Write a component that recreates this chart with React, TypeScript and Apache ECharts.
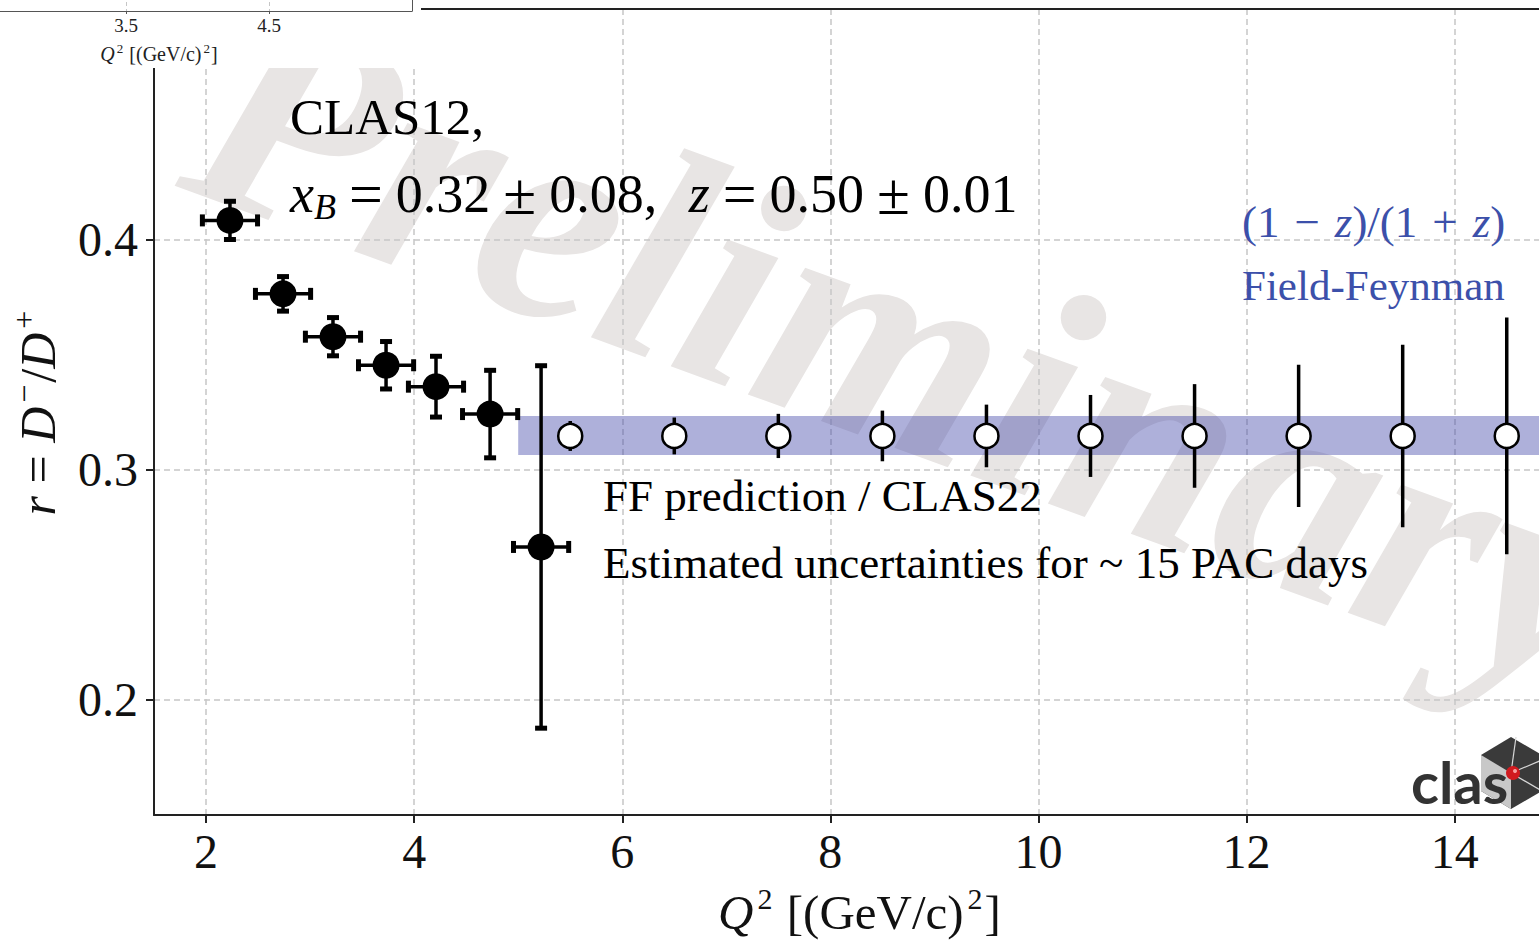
import React, { useEffect, useRef } from 'react';
import * as echarts from 'echarts';

// ---- axis ticks ----
const xTicks = [2, 4, 6, 8, 10, 12, 14];
const yTicks = [0.2, 0.3, 0.4];
const insetTicks = [3.5, 4.5];

// ---- measured points (filled) ----
const measQ2 = [2.23, 2.74, 3.22, 3.73, 4.21, 4.73, 5.22];
const measQ2Err = [0.265, 0.265, 0.265, 0.265, 0.265, 0.265, 0.265];
const measR = [0.4082, 0.3763, 0.3577, 0.3453, 0.336, 0.3241, 0.2664];
const measRErr = [0.0083, 0.0075, 0.0083, 0.0103, 0.0132, 0.019, 0.0787];

// ---- projected points (open) ----
const projQ2 = [5.5, 6.5, 7.5, 8.5, 9.5, 10.5, 11.5, 12.5, 13.5, 14.5];
const projR = [0.3146, 0.3146, 0.3146, 0.3146, 0.3146, 0.3146, 0.3146, 0.3146, 0.3146, 0.3146];
const projRErr = [0.0065, 0.008, 0.0096, 0.011, 0.0136, 0.0178, 0.0225, 0.0309, 0.0396, 0.0514];

// ---- Field-Feynman band ----
const bandQ2 = [5.0, 15.0];
const bandLow = [0.3063];
const bandHigh = [0.3233];

const SERIF = '"Liberation Serif", "Times New Roman", "DejaVu Serif", serif';

export default function App() {
  const ref = useRef<HTMLDivElement>(null);

  useEffect(() => {
    if (!ref.current) return;
    const chart = echarts.init(ref.current, null, { renderer: 'svg' });

    const gridLine = { show: true, lineStyle: { color: '#c6c6c6', width: 1.5, type: [6, 4] } };
    const axisLineStyle = { color: '#222', width: 2 };

    const measData = measQ2.map((q, i) => [q, measR[i], measQ2Err[i], measRErr[i]]);
    const projData = projQ2.map((q, i) => [q, projR[i], 0, projRErr[i]]);

    const errRender = (withCaps: boolean, lw: number) => (params: any, api: any) => {
      const x = api.value(0);
      const y = api.value(1);
      const ex = api.value(2);
      const ey = api.value(3);
      const top = api.coord([x, y + ey]);
      const bot = api.coord([x, y - ey]);
      const children: any[] = [
        { type: 'line', shape: { x1: top[0], y1: top[1], x2: bot[0], y2: bot[1] }, style: { stroke: '#000', lineWidth: lw } },
      ];
      if (withCaps) {
        const left = api.coord([x - ex, y]);
        const right = api.coord([x + ex, y]);
        const c = 6;
        const cs = { stroke: '#000', lineWidth: 5 };
        children.push(
          { type: 'line', shape: { x1: left[0], y1: left[1], x2: right[0], y2: right[1] }, style: { stroke: '#000', lineWidth: lw } },
          { type: 'line', shape: { x1: top[0] - c, y1: top[1], x2: top[0] + c, y2: top[1] }, style: cs },
          { type: 'line', shape: { x1: bot[0] - c, y1: bot[1], x2: bot[0] + c, y2: bot[1] }, style: cs },
          { type: 'line', shape: { x1: left[0], y1: left[1] - c, x2: left[0], y2: left[1] + c }, style: cs },
          { type: 'line', shape: { x1: right[0], y1: right[1] - c, x2: right[0], y2: right[1] + c }, style: cs }
        );
      }
      return { type: 'group', children };
    };

    const supRich = (size: number, sup: number) => ({
      it: { fontFamily: SERIF, fontSize: size, fontStyle: 'italic', lineHeight: size + 10, verticalAlign: 'middle', color: '#111' },
      n: { fontFamily: SERIF, fontSize: size, lineHeight: size + 10, verticalAlign: 'middle', color: '#111' },
      sup: { fontFamily: SERIF, fontSize: sup, lineHeight: sup, verticalAlign: 'top', color: '#111', padding: [0, 2, 0, 4] },
    });

    const option: any = {
      animation: false,
      backgroundColor: '#ffffff',
      grid: [
        { left: 154, top: 9, right: 0, bottom: 125, containLabel: false, outerBoundsMode: 'none' },
        { left: -17, top: -40, width: 429, height: 51, containLabel: false, outerBoundsMode: 'none' },
      ],
      xAxis: [
        {
          type: 'value', gridIndex: 0, min: 1.5, max: 14.81, splitNumber: 7, position: 'bottom', z: 1,
          axisLine: { show: true, onZero: false, lineStyle: axisLineStyle },
          axisTick: { show: true, inside: false, length: 8, customValues: xTicks, lineStyle: axisLineStyle },
          axisLabel: { customValues: xTicks, fontFamily: SERIF, fontSize: 48, color: '#111', margin: 12 },
          splitLine: gridLine,
          name: '{it|Q}{sup|2}{n| [(GeV/c)}{sup|2}{n|]}',
          nameLocation: 'middle',
          nameGap: 68,
          nameTextStyle: { fontFamily: SERIF, fontSize: 48, color: '#111', padding: [0, 0, 0, 26], rich: supRich(49, 30) },
        },
        {
          type: 'value', gridIndex: 0, min: 1.5, max: 14.81, position: 'top', z: 1,
          axisLine: { show: true, onZero: false, lineStyle: axisLineStyle },
          axisTick: { show: false }, axisLabel: { show: false }, splitLine: { show: false },
        },
        {
          type: 'value', gridIndex: 1, min: 2.5, max: 5.5, interval: 1, position: 'bottom', z: 7,
          axisLine: { show: true, onZero: false, lineStyle: { color: '#555', width: 1 } },
          axisTick: { show: true, length: 3, customValues: insetTicks, lineStyle: { color: '#555', width: 1 } },
          axisLabel: {
            customValues: insetTicks, fontFamily: SERIF, fontSize: 19, color: '#222', margin: 5,
            formatter: (v: number) => v.toFixed(1),
          },
          splitLine: { show: true, lineStyle: { color: '#c6c6c6', width: 1, type: [4, 3] } },
        },
      ],
      yAxis: [
        {
          type: 'value', gridIndex: 0, min: 0.15, max: 0.5, splitNumber: 3, z: 1,
          axisLine: { show: true, onZero: false, lineStyle: axisLineStyle },
          axisTick: { show: true, inside: false, length: 8, customValues: yTicks, lineStyle: axisLineStyle },
          axisLabel: {
            customValues: yTicks, fontFamily: SERIF, fontSize: 48, color: '#111', margin: 16,
            formatter: (v: number) => v.toFixed(1),
          },
          splitLine: gridLine,
          name: '{it|r}{n| = }{it|D}{sup|−}{n|/}{it|D}{sup|+}',
          nameLocation: 'middle',
          nameRotate: 90,
          nameGap: 86,
          nameTextStyle: { fontFamily: SERIF, fontSize: 50, color: '#111', rich: supRich(50, 32) },
        },
        {
          type: 'value', gridIndex: 1, min: 0, max: 1, position: 'right', z: 7,
          axisLine: { show: true, onZero: false, lineStyle: { color: '#555', width: 1 } },
          axisTick: { show: false }, axisLabel: { show: false }, splitLine: { show: false },
        },
      ],
      series: [
        {
          type: 'custom', name: 'FF band', xAxisIndex: 0, yAxisIndex: 0, z: 2, clip: true,
          data: [[bandQ2[0], bandLow[0], bandQ2[1], bandHigh[0]]],
          encode: { x: [0, 2], y: [1, 3] },
          renderItem: (params: any, api: any) => {
            const p1 = api.coord([api.value(0), api.value(3)]);
            const p2 = api.coord([api.value(2), api.value(1)]);
            return {
              type: 'rect',
              shape: { x: p1[0], y: p1[1], width: p2[0] - p1[0], height: p2[1] - p1[1] },
              style: { fill: 'rgba(62,66,168,0.42)' },
            };
          },
        },
        {
          type: 'custom', name: 'meas err', xAxisIndex: 0, yAxisIndex: 0, z: 3,
          data: measData, encode: { x: 0, y: 1 },
          renderItem: errRender(true, 3.5),
        },
        {
          type: 'custom', name: 'proj err', xAxisIndex: 0, yAxisIndex: 0, z: 3,
          data: projData, encode: { x: 0, y: 1 },
          renderItem: errRender(false, 3.5),
        },
        {
          type: 'scatter', name: 'CLAS12', xAxisIndex: 0, yAxisIndex: 0, z: 4,
          symbol: 'circle', symbolSize: 27,
          itemStyle: { color: '#000', opacity: 1 },
          data: measQ2.map((q, i) => [q, measR[i]]),
        },
        {
          type: 'scatter', name: 'projection', xAxisIndex: 0, yAxisIndex: 0, z: 4,
          symbol: 'circle', symbolSize: 24,
          itemStyle: { color: '#fff', borderColor: '#000', borderWidth: 2.5, opacity: 1 },
          data: projQ2.map((q, i) => [q, projR[i]]),
        },
      ],
      graphic: [
        // watermark
        {
          type: 'text', x: 158, y: 232, rotation: (-20 * Math.PI) / 180, z: 0, silent: true,
          style: {
            text: 'Preliminary', fill: '#e8e5e4',
            font: 'italic bold 302px "Liberation Serif", serif',
            align: 'left', textAlign: 'left', verticalAlign: 'bottom', textVerticalAlign: 'bottom',
          },
        },
        // annotations
        {
          type: 'text', x: 290, y: 117, z: 5,
          style: { text: 'CLAS12,', fill: '#000', font: `51px ${SERIF}`, align: 'left', textAlign: 'left', verticalAlign: 'middle', textVerticalAlign: 'middle' },
        },
        {
          type: 'text', x: 290, y: 194, z: 5,
          style: {
            text: '{it|x}{sub|B}{op|=}{n|0.32}{op|±}{n|0.08,}{sp| }{it|z}{op|=}{n|0.50}{op|±}{n|0.01}',
            align: 'left', textAlign: 'left', verticalAlign: 'middle', textVerticalAlign: 'middle',
            rich: {
              it: { fontFamily: SERIF, fontSize: 54, fontStyle: 'italic', lineHeight: 62, verticalAlign: 'middle', fill: '#000' },
              n: { fontFamily: SERIF, fontSize: 54, lineHeight: 62, verticalAlign: 'middle', fill: '#000' },
              op: { fontFamily: SERIF, fontSize: 60, lineHeight: 62, verticalAlign: 'middle', fill: '#000', padding: [0, 13, 0, 13] },
              sp: { fontFamily: SERIF, fontSize: 54, lineHeight: 62, verticalAlign: 'middle', fill: '#000', padding: [0, 9, 0, 9] },
              sub: { fontFamily: SERIF, fontSize: 36, fontStyle: 'italic', lineHeight: 30, verticalAlign: 'bottom', fill: '#000' },
            },
          },
        },
        {
          type: 'text', x: 1242, y: 222, z: 5,
          style: {
            text: '{n|(1}{op|−}{it|z}{n|)/(1}{op|+}{it|z}{n|)}',
            align: 'left', textAlign: 'left', verticalAlign: 'middle', textVerticalAlign: 'middle',
            rich: {
              it: { fontFamily: SERIF, fontSize: 45, fontStyle: 'italic', lineHeight: 52, verticalAlign: 'middle', fill: '#3c50aa' },
              n: { fontFamily: SERIF, fontSize: 45, lineHeight: 52, verticalAlign: 'middle', fill: '#3c50aa' },
              op: { fontFamily: SERIF, fontSize: 45, lineHeight: 52, verticalAlign: 'middle', fill: '#3c50aa', padding: [0, 15, 0, 15] },
            },
          },
        },
        {
          type: 'text', x: 1242, y: 285, z: 5,
          style: { text: 'Field-Feynman', fill: '#3c50aa', font: `43px ${SERIF}`, align: 'left', textAlign: 'left', verticalAlign: 'middle', textVerticalAlign: 'middle' },
        },
        {
          type: 'text', x: 603, y: 496, z: 5,
          style: { text: 'FF prediction / CLAS22', fill: '#000', font: `45px ${SERIF}`, align: 'left', textAlign: 'left', verticalAlign: 'middle', textVerticalAlign: 'middle' },
        },
        {
          type: 'text', x: 603, y: 563, z: 5,
          style: { text: 'Estimated uncertainties for ~ 15 PAC days', fill: '#000', font: `45px ${SERIF}`, align: 'left', textAlign: 'left', verticalAlign: 'middle', textVerticalAlign: 'middle' },
        },
        // inset background (covers main axes there)
        {
          type: 'rect', z: 6, silent: true,
          shape: { x: 0, y: 0, width: 421, height: 68 },
          style: { fill: '#fff' },
        },
        {
          type: 'text', x: 159, y: 54, z: 8,
          style: {
            text: '{it|Q}{sup|2}{n| [(GeV/c)}{sup|2}{n|]}',
            align: 'center', textAlign: 'center', verticalAlign: 'middle', textVerticalAlign: 'middle',
            rich: {
              it: { fontFamily: SERIF, fontSize: 20, fontStyle: 'italic', lineHeight: 24, verticalAlign: 'middle', fill: '#222' },
              n: { fontFamily: SERIF, fontSize: 20, lineHeight: 24, verticalAlign: 'middle', fill: '#222' },
              sup: { fontFamily: SERIF, fontSize: 13, lineHeight: 13, verticalAlign: 'top', fill: '#222', padding: [0, 1, 0, 2] },
            },
          },
        },
        // clas logo
        {
          type: 'group', z: 5,
          children: [
            {
              type: 'polygon', z: 5,
              shape: { points: [[1511, 737], [1542, 755], [1542, 791], [1511, 809], [1481, 791], [1481, 755]] },
              style: { fill: '#3a3a3a' },
            },
            {
              type: 'polygon', z: 5,
              shape: { points: [[1481, 755], [1511, 773], [1511, 809], [1481, 791]] },
              style: { fill: '#c8c8c8' },
            },
            { type: 'line', z: 5, shape: { x1: 1511, y1: 773, x2: 1516, y2: 737 }, style: { stroke: '#d8d8d8', lineWidth: 1.2 } },
            { type: 'line', z: 5, shape: { x1: 1511, y1: 773, x2: 1542, y2: 760 }, style: { stroke: '#d8d8d8', lineWidth: 1.2 } },
            { type: 'line', z: 5, shape: { x1: 1511, y1: 773, x2: 1542, y2: 791 }, style: { stroke: '#d8d8d8', lineWidth: 1.2 } },
            {
              type: 'text', x: 1411, y: 781, z: 6,
              style: { text: 'clas', fill: '#333', font: 'bold 58px Lato, "DejaVu Sans", sans-serif', align: 'left', textAlign: 'left', verticalAlign: 'middle', textVerticalAlign: 'middle' },
            },
            { type: 'circle', z: 7, shape: { cx: 1513, cy: 773, r: 7 }, style: { fill: '#d11a1f' } },
            { type: 'circle', z: 7, shape: { cx: 1515, cy: 771, r: 2 }, style: { fill: '#f7a0a0' } },
          ],
        },
      ],
    };

    chart.setOption(option);
    return () => chart.dispose();
  }, []);

  return (
    <div
      ref={ref}
      style={{ position: 'fixed', left: 0, top: 0, width: 1539, height: 940, background: '#fff' }}
    />
  );
}
